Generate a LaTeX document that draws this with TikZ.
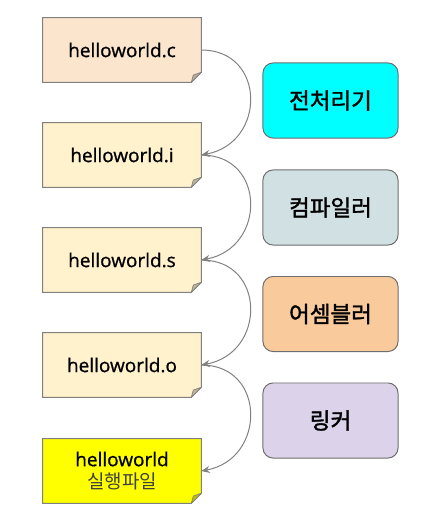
\documentclass[tikz,border=0pt]{standalone}
\usepackage{fontspec}
\setmainfont[FakeBold=0.9]{Open Sans}
\newfontfamily\kr{Noto Sans CJK KR}
\newfontfamily\krbold[FakeBold=1.6]{Noto Sans CJK KR}
\usepackage{tikz}
\usetikzlibrary{positioning, arrows.meta, backgrounds}
\definecolor{lineGray}{RGB}{128, 128, 128}
\definecolor{boxGray}{RGB}{110, 110, 110}
\definecolor{srcPeach}{RGB}{252, 229, 205}
\definecolor{fileCream}{RGB}{255, 242, 204}
\definecolor{exeYellow}{RGB}{255, 255, 0}
\definecolor{cppCyan}{RGB}{0, 255, 255}
\definecolor{ccBlue}{RGB}{208, 224, 227}
\definecolor{asOrange}{RGB}{249, 203, 156}
\definecolor{ldPurple}{RGB}{220, 211, 234}

\begin{document}
\begin{tikzpicture}[
    x=0.025cm, y=-0.025cm,
    filebox/.style={rectangle, minimum width=3.95cm, minimum height=1.6cm,
                    inner sep=0pt, align=center, font=\fontsize{13.5}{17}\selectfont},
    toolbox/.style={rectangle, draw=boxGray, line width=0.7pt, rounded corners=0.25cm,
                    minimum width=3.375cm, minimum height=1.875cm,
                    font=\krbold\fontsize{16}{19}\selectfont},
    flow/.style={draw=lineGray, line width=0.7pt, -{Stealth[length=6pt, width=5pt]}},
  ]
    \useasboundingbox (0,0) rectangle (432,531);

    % files
    \node[filebox] (src) at (122,50) {helloworld.c};
    \node[filebox] (pre) at (122,155) {helloworld.i};
    \node[filebox] (asm) at (122,260) {helloworld.s};
    \node[filebox] (obj) at (122,365) {helloworld.o};
    \node[filebox] (exe) at (122,471) {helloworld\\[-1pt]{\kr\color{black!75}실행파일}};

    % tools
    \node[toolbox, fill=cppCyan] (cpp) at (330.5,100.5) {전처리기};
    \node[toolbox, fill=ccBlue] (cc) at (330.5,207.5) {컴파일러};
    \node[toolbox, fill=asOrange] (as) at (330.5,314) {어셈블러};
    \node[toolbox, fill=ldPurple] (ld) at (330.5,420.5) {링커};

    % note shapes with folded corner
    \begin{scope}[on background layer]
      \foreach \n/\c in {src/srcPeach, pre/fileCream, asm/fileCream, obj/fileCream, exe/exeYellow} {
        \filldraw[fill=\c, draw=lineGray, line width=0.7pt]
          (\n.north west) -- (\n.north east) -- ([yshift=0.25cm]\n.south east)
          -- ([xshift=-0.25cm]\n.south east) -- (\n.south west) -- cycle;
        \filldraw[fill=\c!75!black, draw=lineGray, line width=0.5pt, line join=round]
          ([xshift=-0.25cm]\n.south east) -- ([yshift=0.25cm]\n.south east)
          -- ([shift={(-0.2cm,0.18cm)}]\n.south east) -- cycle;
      }
    \end{scope}

    % steps
    \draw[flow] (src.east) .. controls +(65,0) and +(65,-12) .. (pre.east);
    \draw[flow] (pre.east) .. controls +(65,0) and +(65,-12) .. (asm.east);
    \draw[flow] (asm.east) .. controls +(65,0) and +(65,-12) .. (obj.east);
    \draw[flow] (obj.east) .. controls +(65,0) and +(65,-12) .. (exe.east);
  \end{tikzpicture}
\end{document}
